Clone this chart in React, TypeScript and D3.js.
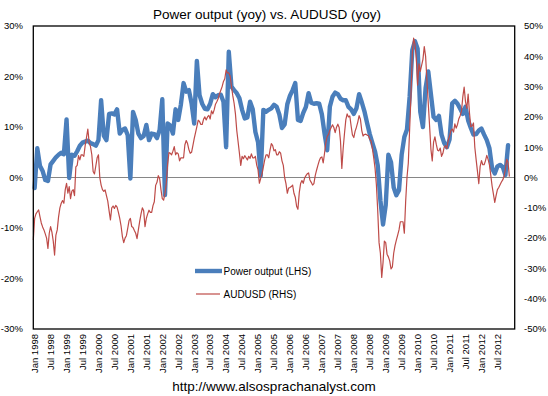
import React from 'react';
import * as d3 from 'd3';

// China power output, yoy %, monthly from Jan 1998 (LHS)
const powerOutput: number[] = [
  -2.1, 5.8, 2.3, 1.3, -0.5, -0.7, 2.6, 3.3, 4.0, 4.5, 4.9, 4.6,
  11.5, -0.1, 4.5, 4.3, 5.2, 6.3, 6.9, 7.1, 7.3, 6.8, 6.6, 6.3,
  7.4, 15.3, 8.3, 7.4, 12.6, 12.7, 12.5, 13.5, 8.7, 9.4, 9.7, 8.4,
  -0.2, 13, 11.4, 8.7, 7.8, 8.2, 10.4, 7.4, 8.7, 8.6, 7.8, 9.4,
  15.5, -3.5, 10.7, 10.3, 8.7, 13.5, 11.4, 14.5, 18.7, 17, 17.3, 14.7,
  10.7, 23.1, 16.3, 14.6, 13.6, 13.5, 14.6, 16.5, 15.9, 16.3, 16.4, 15,
  6, 24.9, 18, 17.3, 16.7, 15.7, 13.4, 11.7, 11.9, 15, 13.5, 9,
  7, 0.3, 13.4, 13, 13.4, 13.7, 14.4, 14, 12.5, 9.8, 10.5, 14.5,
  16.2, 17.3, 18.7, 11.4, 11.2, 12.8, 14, 16.7, 14.8, 14.6, 14.7, 14.6,
  12.5, 8.7, 5.4, 14, 16, 16.8, 16.5, 15.6, 15.3, 15.3, 14, 13.5,
  12.6, 13.7, 16.5, 14.9, 13.1, 10.8, 8.6, 6.8, 5.1, 2.4, -4.5, -9.3,
  -5.5, 4.5, 3, -2, -3.5, -2.5, 4.5, 8, 9.5, 16, 25.2, 27,
  25.5, 13, 10, 17.7, 21, 16.5, 12, 11.4, 12.2, 8.5, 6.8, 6,
  7.5, 14.7, 15.2, 14.6, 13.6, 12.6, 14, 11.3, 9.8, 8.5, 8.6, 9.3,
  9.7, 8.5, 7.4, 5.8, 1.8, 0.8, 2.2, 2.5, 2.1, 0.5, 6.4,
];

// AUDUSD, yoy %, sampled on the 1st and 16th of each month from 1 Jan 1998 (RHS)
const audusd: number[] = [
  -20.6, -13.5, -12, -11.3, -10.7, -12.9, -15, -16.3, -17.3, -18.6, -20, -23.4,
  -18.4, -16.2, -18, -21, -25.6, -19, -17.3, -13, -10, -8.5, -7.6, -8.5,
  -4.1, -1.9, -5.2, -3, -7, -4.5, -4, -6, 3.5, 4, 7.2, 5.8,
  7.5, 7.5, 7, 10.5, 13.2, 16, 11.5, 10.2, 7.5, 2, 1.2, 3.8,
  6.5, 7.5, 0, -2.5, -4, -4.6, -4.1, -6, -7.8, -11, -14, -10,
  -9.4, -10.2, -9.2, -9.8, -11.5, -13.5, -16, -19.5, -21.5, -20, -19.2, -16.8,
  -14.2, -13.5, -16.2, -16.5, -17.5, -18.4, -20.2, -17.3, -14.5, -12, -10, -11,
  -16.2, -13.5, -12, -10.8, -11.5, -11.5, -9.3, -8, -2.6, -1.6, 0.6, -0.3,
  -4, -7, -7.5, -5.2, -2, 4.4, 8.2, 8, 7.5, 8.7, 10.2, 7.5,
  8.2, 7.8, 5.5, 6.5, 6.5, 6.5, 10.8, 12.2, 11.2, 9.2, 8, 8.3,
  10.5, 12.8, 14.8, 16.8, 18.9, 18.5, 17.5, 17.5, 19.2, 20, 19, 20,
  20.5, 19.3, 22, 21, 22.3, 24.2, 25, 26, 27.6, 28.8, 30, 31.7,
  32.6, 35.5, 34.5, 34.5, 33.5, 30.2, 27, 24.5, 21, 15.5, 11.8, 8,
  4, 7, 6.2, 7.2, 6.5, 5.8, 7, 6.3, 7.8, 6.5, 6.5, 7,
  4.1, 2.5, -1.9, -0.3, 1.2, 3.5, 5.8, 7.5, 7.5, 6.5, 9, 11.2,
  10.5, 8.8, 9.2, 7.5, 7.5, 8.5, 8, 5.5, 4, 0, -2, -5.2,
  -3.5, -3.3, -3, -2.5, -5.2, -6.5, -9.5, -10.5, -5, -2, -1, -1.9,
  -0.2, 0.6, 1.2, 1.5, -0.8, -1.6, -2.5, -2, 0.6, 2.4, 4, 5.5,
  6.5, 6.8, 4.8, 8, 11.5, 13.6, 14.2, 15.6, 16.5, 17.4, 16.5, 14.8,
  16.6, 17.6, 16.5, 12, 3, 9.5, 14.5, 19, 21, 20, 20.3, 17,
  14, 13.2, 15.3, 16.6, 18.3, 20.4, 19.2, 15.5, 13.7, 14.2, 14.3, 14,
  13.8, 12.6, 12, 9.5, 6.5, 3, -2.5, -11, -21.5, -25, -33, -28,
  -21, -21.5, -25.3, -26.2, -27.5, -30.2, -29.5, -25, -22.5, -20.7, -19, -17.3,
  -14.6, -14.6, -14.6, -18.4, -8, 0, 4.8, 16, 27, 41, 46, 44,
  39.3, 30.5, 37.5, 35, 37, 39, 43.2, 40, 32, 24.5, 17, 9.3,
  5.5, 11.7, 13.4, 11, 9, 8.8, 9.7, 7, 8, 10, 10.5, 9.5,
  12.3, 13.6, 15.5, 16, 15, 17.7, 16.3, 17.5, 19.4, 20.4, 22, 26.7,
  29.8, 25, 22.8, 27.5, 21.3, 16.8, 17, 18, 10, 5.9, 2, -2,
  3.6, 5.6, 4.2, 4.2, 5.5, 7.3, 6, 4.2, 0.8, -2.8, -5.5, -8.2,
  -6, -4, -3.3, -2.4, -1.5, -0.8, 0.4, 2.8, 6, 5, 0.3,
];

const xTickLabels: string[] = [
  'Jan 1998', 'Jul 1998', 'Jan 1999', 'Jul 1999', 'Jan 2000', 'Jul 2000',
  'Jan 2001', 'Jul 2001', 'Jan 2002', 'Jul 2002', 'Jan 2003', 'Jul 2003',
  'Jan 2004', 'Jul 2004', 'Jan 2005', 'Jul 2005', 'Jan 2006', 'Jul 2006',
  'Jan 2007', 'Jul 2007', 'Jan 2008', 'Jul 2008', 'Jan 2009', 'Jul 2009',
  'Jan 2010', 'Jul 2010', 'Jan 2011', 'Jul 2011', 'Jan 2012', 'Jul 2012',
];
const leftTicks: number[] = [-30, -20, -10, 0, 10, 20, 30];
const rightTicks: number[] = [-50, -40, -30, -20, -10, 0, 10, 20, 30, 40, 50];

const title = 'Power output (yoy) vs. AUDUSD (yoy)';
const footer = 'http://www.alsosprachanalyst.com';
const legendLabels = ['Power output (LHS)', 'AUDUSD (RHS)'];

const W = 548, H = 396;
const L = 33.3, R = 514.7, T = 26, B = 329;
const BLUE = '#4A7EBB', RED = '#BE4B48';
const FONT = "'Liberation Sans', Arial, sans-serif";

export default function App() {
  // x domain in months since Jan 1998 (181 monthly slots)
  const x = d3.scaleLinear().domain([0, 181]).range([L, R]);
  const yL = d3.scaleLinear().domain([-30, 30]).range([B, T]);
  const yR = d3.scaleLinear().domain([-50, 50]).range([B, T]);

  const bluePath = d3.line<number>()
    .x((_, i) => x(i + 0.5))
    .y(d => yL(d))(powerOutput) || '';
  const redPath = d3.line<number>()
    .x((_, j) => x(j / 2))
    .y(d => yR(d))(audusd) || '';

  return (
    <svg width={W} height={H} style={{ position: 'absolute', left: 0, top: 0, background: '#fff' }}
      fontFamily={FONT}>
      <rect x={0} y={0} width={W} height={H} fill="#fff" />
      <text x={267} y={19} textAnchor="middle" fontSize={13.5} fill="#000">{title}</text>

      {/* zero line */}
      <line x1={L} x2={R} y1={yL(0)} y2={yL(0)} stroke="#868686" strokeWidth={1} />

      <path d={bluePath} fill="none" stroke={BLUE} strokeWidth={4.4} strokeLinejoin="round" strokeLinecap="round" />
      <path d={redPath} fill="none" stroke={RED} strokeWidth={1.2} strokeLinejoin="round" />

      {/* plot border */}
      <rect x={L} y={T} width={R - L} height={B - T} fill="none" stroke="#000" strokeWidth={1.3} />

      {leftTicks.map(t => (
        <text key={'l' + t} x={23} y={yL(t)} dy="0.35em" textAnchor="end" fontSize={9.5} fill="#000">{t}%</text>
      ))}
      {rightTicks.map(t => (
        <text key={'r' + t} x={524} y={yR(t)} dy="0.35em" textAnchor="start" fontSize={9.5} fill="#000">{t}%</text>
      ))}
      {xTickLabels.map((lab, k) => {
        const xx = x(k * 6 + 0.5);
        return (
          <text key={lab} transform={`translate(${xx},334) rotate(-90)`} textAnchor="end" dy="0.35em"
            fontSize={9.5} fill="#000">{lab}</text>
        );
      })}

      {/* legend */}
      <line x1={195} x2={222} y1={271} y2={271} stroke={BLUE} strokeWidth={4.4} />
      <text x={223.5} y={271} dy="0.35em" fontSize={10} fill="#000">{legendLabels[0]}</text>
      <line x1={196} x2={220} y1={294} y2={294} stroke={RED} strokeWidth={1.2} />
      <text x={223.5} y={294} dy="0.35em" fontSize={10} fill="#000">{legendLabels[1]}</text>

      <text x={274} y={391} textAnchor="middle" fontSize={13.5} fill="#000">{footer}</text>
    </svg>
  );
}
